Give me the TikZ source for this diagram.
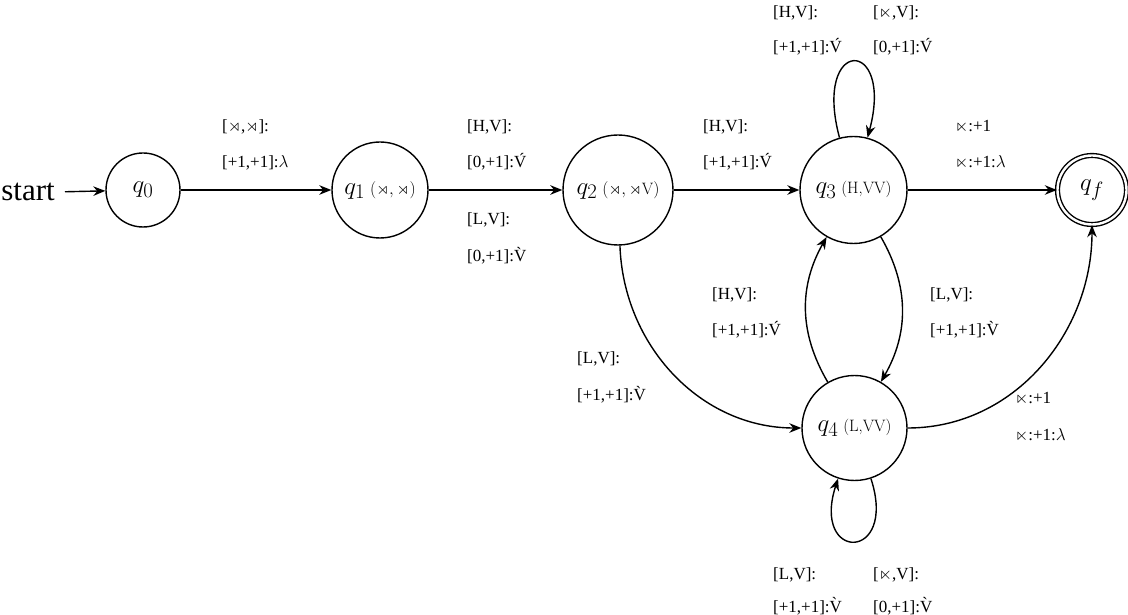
\documentclass[tikz,border=0pt]{standalone}
\usepackage{amssymb}
\usepackage{fontspec}
\newfontfamily\tms{Liberation Serif}
\usetikzlibrary{arrows.meta}
\tikzset{
  state/.style={circle,draw,line width=1.4pt,inner sep=0pt,font=\fontsize{28}{32}\selectfont},
  lbl/.style={anchor=base west,inner sep=0pt,font=\tms\fontsize{17}{20}\selectfont},
  tr/.style={line width=1.4pt,-{Stealth[length=12pt,width=9.5pt]}},
}
\newcommand{\ann}[1]{\hspace{5pt}{\fontsize{16.5}{19}\selectfont #1}}
\begin{document}
\begin{tikzpicture}[x=1pt,y=1pt]
\useasboundingbox (0,0) rectangle (1128,614);
% states
\node[state,minimum size=74pt] (q0) at (143,424) {$q_0$};
\node[state,minimum size=96pt] (q1) at (380,424) {$q_1$\ann{$(\rtimes,\rtimes)$}};
\node[state,minimum size=110pt] (q2) at (618,424) {$q_2$\ann{$(\rtimes,\rtimes\mathrm{V})$}};
\node[state,minimum size=107pt] (q3) at (853.5,424) {$q_3$\ann{(H,VV)}};
\node[state,minimum size=69pt,double,double distance=2.4pt] (qf) at (1092,424) {$q_f$};
\node[state,minimum size=105pt] (q4) at (854.5,186) {$q_4$\ann{(L,VV)}};
\node[anchor=east,inner sep=0pt,font=\tms\fontsize{31}{34}\selectfont] (start) at (55,422) {start};
% transitions
\draw[tr,shorten <=10pt] (start.east) -- (q0);
\draw[tr] (q0) -- (q1);
\draw[tr,line width=2.4pt] (q1) -- (q2);
\draw[tr] (q2) -- (q3);
\draw[tr] (q3) -- (qf);
\draw[tr] (q2) to[out=-88,in=180] (q4);
\draw[tr] (q3) to[bend left=30] (q4);
\draw[tr] (q4) to[bend left=30] (q3);
\draw[tr] (q4) to[out=0,in=-90] (qf);
\draw[tr] (q3) to[out=105,in=75,distance=105pt] (q3);
\draw[tr] (q4) to[out=-72,in=-108,distance=88pt] (q4);
% labels
\node[lbl] (l01a) at (222,482) {[$\rtimes$,$\rtimes$]:};
\node[lbl] (l01b) at (222,446) {[+1,+1]:$\lambda$};
\node[lbl] (l12a) at (467,482) {[H,V]:};
\node[lbl] (l12b) at (467,446) {[0,+1]:\'V};
\node[lbl] (l12c) at (467,389) {[L,V]:};
\node[lbl] (l12d) at (467,352) {[0,+1]:\`V};
\node[lbl] (l23a) at (703,482) {[H,V]:};
\node[lbl] (l23b) at (703,446) {[+1,+1]:\'V};
\node[lbl] (l33a) at (773,596) {[H,V]:};
\node[lbl] (l33b) at (773,561) {[+1,+1]:\'V};
\node[lbl] (l33c) at (873,596) {[$\ltimes$,V]:};
\node[lbl] (l33d) at (873,561) {[0,+1]:\'V};
\node[lbl] (l3fa) at (955,482) {$\ltimes$:+1};
\node[lbl] (l3fb) at (955,446) {$\ltimes$:+1:$\lambda$};
\node[lbl] (l43a) at (712,314) {[H,V]:};
\node[lbl] (l43b) at (712,278) {[+1,+1]:\'V};
\node[lbl] (l34a) at (930,314) {[L,V]:};
\node[lbl] (l34b) at (930,278) {[+1,+1]:\`V};
\node[lbl] (l24a) at (577,250) {[L,V]:};
\node[lbl] (l24b) at (577,213) {[+1,+1]:\`V};
\node[lbl] (l4fa) at (1015,210) {$\ltimes$:+1};
\node[lbl] (l4fb) at (1015,173) {$\ltimes$:+1:$\lambda$};
\node[lbl] (l44a) at (773,35) {[L,V]:};
\node[lbl] (l44b) at (773,2) {[+1,+1]:\`V};
\node[lbl] (l44c) at (873,35) {[$\ltimes$,V]:};
\node[lbl] (l44d) at (873,2) {[0,+1]:\`V};
\end{tikzpicture}
\end{document}
